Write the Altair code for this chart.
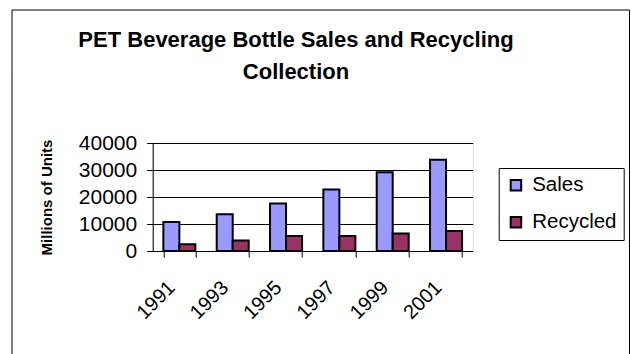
import altair as alt
import pandas as pd

years = ["1991", "1993", "1995", "1997", "1999", "2001"]
sales = [10700, 13600, 17600, 22800, 29200, 33800]
recycled = [2500, 3900, 5600, 5600, 6500, 7400]
series = ["Sales", "Recycled"]
colors = ["#9999FF", "#993366"]

rows = []
for y, s, r in zip(years, sales, recycled):
    rows.append({"Year": y, "Series": "Sales", "Value": s})
    rows.append({"Year": y, "Series": "Recycled", "Value": r})
df = pd.DataFrame(rows)

FONT = "Liberation Sans"

bars = alt.Chart(df).mark_bar(stroke="black", strokeWidth=2).encode(
    x=alt.X("Year:N", sort=years, title=None,
            scale=alt.Scale(paddingInner=0.4, paddingOuter=0.2),
            axis=alt.Axis(labelAngle=-45, labelFontSize=20, labelFont=FONT,
                          labelColor="black", tickBand="extent", tickSize=6,
                          tickColor="black", domainColor="black",
                          labelPadding=20, labelOffset=-15, grid=False)),
    xOffset=alt.XOffset("Series:N", sort=series, scale=alt.Scale(paddingInner=0, paddingOuter=0)),
    y=alt.Y("Value:Q", title="Millions of Units",
            scale=alt.Scale(domain=[0, 40000], nice=False),
            axis=alt.Axis(values=[0, 10000, 20000, 30000, 40000], format="d",
                          labelFontSize=21, labelFont=FONT, labelColor="black",
                          titleFont=FONT, titleFontSize=15, titleFontWeight="bold",
                          titleColor="black", titlePadding=24,
                          tickSize=6, tickColor="black", domainColor="black",
                          labelPadding=10, gridColor="black", gridWidth=1,
                          gridOpacity=1)),
    color=alt.Color("Series:N", sort=series,
                    scale=alt.Scale(domain=series, range=colors),
                    legend=alt.Legend(title=None, orient="none", legendX=346, legendY=25,
                                      labelFontSize=20.5, labelFont=FONT, labelColor="black",
                                      symbolType="square", symbolSize=110,
                                      symbolStrokeColor="black", symbolStrokeWidth=2,
                                      symbolOpacity=1,
                                      fillColor="white", strokeColor="black",
                                      padding=7, rowPadding=16, labelOffset=6,
                                      cornerRadius=0)),
)

frame = alt.Chart(pd.DataFrame({"a": [0]})).mark_rect(
    fill=None, stroke="black", strokeWidth=1, clip=False
).encode(
    x=alt.value(-140.7), x2=alt.value(476.8),
    y=alt.value(-133), y2=alt.value(230),
)

chart = alt.layer(frame, bars).properties(
    width=320, height=108,
    title=alt.TitleParams(
        text=["PET Beverage Bottle Sales and Recycling", "Collection"],
        font=FONT, fontSize=22, fontWeight="bold", color="black",
        anchor="middle", frame="group", dx=-16.7, lineHeight=32, offset=-74,
    ),
    autosize=alt.AutoSizeParams(type="none"),
    padding={"left": 152.7, "top": 143, "right": 158.3, "bottom": 103},
).configure_view(
    fill="#C0C0C0", stroke="#808080", strokeWidth=1
).configure(background="white")

chart.save("out.html", embed_options={"renderer": "svg", "actions": False})
